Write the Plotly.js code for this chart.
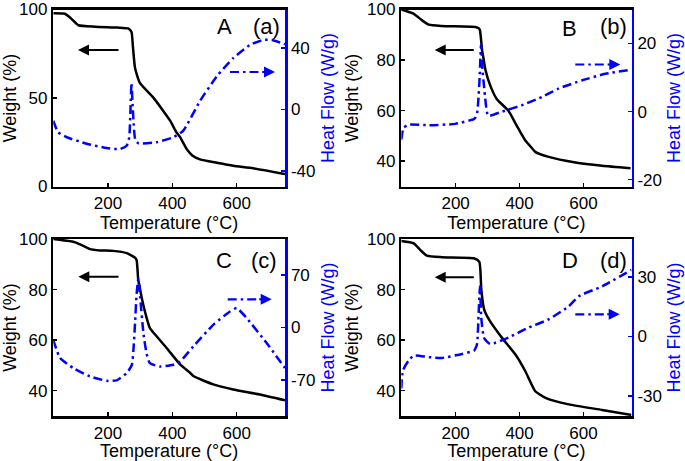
<!DOCTYPE html>
<html>
<head>
<meta charset="utf-8">
<script src="https://cdn.plot.ly/plotly-3.0.1.min.js"></script>
<style>html,body{margin:0;padding:0;background:#fff;}#chart{width:685px;height:461px;}</style>
</head>
<body>
<div id="chart"></div>
<script>
// ---------- data ----------
// Panel A
const tempA_w = [30, 66, 85, 108, 160, 230, 263, 273, 277, 284, 299, 341, 393, 413, 424, 445, 462, 486, 538, 589, 651, 750];
const weightA = [97.9, 97.6, 95.0, 91.1, 90.3, 89.8, 89.3, 87.3, 79.9, 66.9, 58.5, 50.2, 37.2, 30.5, 27.9, 21.0, 17.5, 15.3, 13.4, 11.7, 10.3, 7.1];
const tempA_h = [30, 45, 72, 134, 196, 237, 258, 266, 269, 273, 276, 280, 285, 295, 351, 403, 434, 486, 538, 589, 641, 682, 709, 750];
const heatA = [-7.3, -14.8, -18.0, -22.2, -25.0, -25.7, -23.5, -18.0, -5.0, 17.3, 5.0, -10.0, -20.0, -22.0, -21.2, -18.0, -13.7, 5.6, 21.6, 33.4, 42.0, 45.2, 45.2, 42.4];

// Panel B
const tempB_w = [30, 69, 95, 116, 157, 262, 272, 276, 283, 287, 293, 309, 329, 365, 387, 418, 433, 449, 491, 575, 658, 747];
const weightB = [100, 98.3, 95.7, 94.0, 93.5, 93.1, 92.6, 91.8, 83.5, 80.7, 76.2, 69.7, 64.5, 60.0, 55.0, 48.2, 46.0, 43.7, 41.7, 39.5, 38.2, 37.2];
const tempB_h = [30, 37, 53, 116, 199, 257, 261, 267, 271, 275, 279.5, 284, 288, 292, 302, 345, 408, 470, 523, 596, 668, 747];
const heatB = [-8.2, -4.8, -3.8, -4.0, -3.6, -2.2, -1.9, -0.5, 3.4, 10.0, 19.8, 12.0, 8.2, 4.3, -1.2, 0.0, 1.9, 4.3, 6.8, 9.2, 11.1, 12.3];

// Panel C
const tempC_w = [30, 92, 113, 144, 175, 216, 258, 284, 289, 294, 297, 305, 320, 330, 341, 382, 424, 455, 465, 527, 589, 672, 750];
const weightC = [100, 98.9, 97.9, 96.0, 95.5, 95.3, 94.4, 92.6, 91.5, 83.8, 82.0, 76.6, 68.8, 64.8, 63.0, 56.9, 50.4, 47.1, 45.8, 42.5, 40.5, 38.5, 36.2];
const tempC_h = [30, 51, 92, 144, 196, 227, 258, 274, 279, 284, 289, 294, 300, 310, 320, 330, 361, 403, 424, 465, 527, 579, 600, 631, 693, 750];
const heatC = [-16.4, -40.8, -54.1, -65.3, -71.1, -70.5, -60.8, -50.0, -30.0, 5.9, 45.0, 65.0, 40.0, -7.5, -35.0, -47.5, -52.0, -49.7, -45.3, -25.3, 3.6, 21.3, 25.9, 12.5, -20.8, -54.1];

// Panel D
const tempD_w = [30, 69, 89, 110, 157, 257, 274, 280, 287, 291, 308, 345, 387, 418, 449, 481, 554, 658, 750];
const weightD = [99.2, 98.3, 95.7, 93.4, 92.8, 92.4, 91.0, 80.5, 73.3, 71.4, 67.4, 60.9, 54.3, 47.7, 39.8, 37.2, 34.6, 32.4, 30.4];
const tempD_h = [30, 35, 53, 69, 116, 157, 220, 257, 261, 267, 272, 276, 280, 287, 291, 308, 366, 429, 491, 554, 585, 658, 750];
const heatD = [-26.2, -17.1, -12.1, -9.6, -10.4, -10.8, -8.8, -7.2, -6.3, -3.8, 12.0, 25.2, 9.5, 0.3, -1.3, -3.8, -0.5, 4.5, 8.6, 15.2, 20.2, 25.2, 33.5];

// tick labels
const xTicks = [200, 400, 600];
const yLeftA = [0, 50, 100];
const yLeftBCD = [40, 60, 80, 100];
const yRightA = [-40, 0, 40];
const yRightB = [-20, 0, 20];
const yRightC = [-70, 0, 70];
const yRightD = [-30, 0, 30];
const panelLetters = ["A", "B", "C", "D"];
const panelTags = ["(a)", "(b)", "(c)", "(d)"];

// ---------- helpers ----------
const W = 685, H = 461;
const px = v => v / W;
const py = v => 1 - v / H;
const FONT = "Liberation Sans, Arial, sans-serif";
const BLUE = "#0000ff";
const lbl = arr => arr.map(v => String(v)); // hyphen minus like original

const blackLine = {color: "#000", width: 2.5};
const blueLine = {color: BLUE, width: 2.5, dash: "9px,4px,2.5px,4px"};

const traces = [
  {x: tempA_w, y: weightA, xaxis: "x", yaxis: "y", line: blackLine},
  {x: tempA_h, y: heatA, xaxis: "x", yaxis: "y2", line: blueLine},
  {x: tempB_w, y: weightB, xaxis: "x2", yaxis: "y3", line: blackLine},
  {x: tempB_h, y: heatB, xaxis: "x2", yaxis: "y4", line: blueLine},
  {x: tempC_w, y: weightC, xaxis: "x3", yaxis: "y5", line: blackLine},
  {x: tempC_h, y: heatC, xaxis: "x3", yaxis: "y6", line: blueLine},
  {x: tempD_w, y: weightD, xaxis: "x4", yaxis: "y7", line: blackLine},
  {x: tempD_h, y: heatD, xaxis: "x4", yaxis: "y8", line: blueLine}
].map(t => Object.assign({showlegend: false, hoverinfo: "skip", mode: "lines", type: "scatter"}, t,
  {line: Object.assign({}, t.line, {shape: "spline", smoothing: 0.5})}));

const colDom = [[px(53.3), px(285)], [px(401.3), px(631.5)]];
const rowDom = [[py(186.5), py(9.5)], [py(416), py(239)]];

function xAx(dom, anchor, labelShift) {
  return {
    domain: dom, anchor: anchor, range: [30, 750],
    tickvals: xTicks, ticktext: lbl(xTicks),
    ticks: "inside", ticklen: 4, tickwidth: 1.5, tickcolor: "#000",
    showline: true, linecolor: "#000", linewidth: 2.5, mirror: true,
    showgrid: false, zeroline: false,
    ticklabeloverflow: "allow", ticklabelstandoff: labelShift,
    tickfont: {family: FONT, size: 17, color: "#000"},
    title: {text: "Temperature (°C)", font: {family: FONT, size: 18, color: "#000"}, standoff: 0},
    automargin: false
  };
}
function yLeft(dom, anchor, range, ticks) {
  return {
    domain: dom, anchor: anchor, range: range,
    tickvals: ticks, ticktext: lbl(ticks),
    ticks: "inside", ticklen: 4, tickwidth: 1.5, tickcolor: "#000",
    showline: true, linecolor: "#000", linewidth: 2.5,
    showgrid: false, zeroline: false,
    ticklabeloverflow: "allow",
    tickfont: {family: FONT, size: 17, color: "#000"},
    title: {text: "Weight (%)", font: {family: FONT, size: 18, color: "#000"}, standoff: 4},
    automargin: false
  };
}
function yRight(overlay, anchor, range, ticks) {
  return {
    overlaying: overlay, anchor: anchor, side: "right", range: range,
    tickvals: ticks, ticktext: lbl(ticks),
    ticks: "inside", ticklen: 4, tickwidth: 1.5, tickcolor: BLUE,
    showline: true, linecolor: BLUE, linewidth: 2.5,
    showgrid: false, zeroline: false,
    ticklabeloverflow: "allow",
    tickfont: {family: FONT, size: 17, color: "#000"},
    title: {text: "Heat Flow (W/g)", font: {family: FONT, size: 18, color: BLUE}, standoff: 7},
    automargin: false
  };
}

// arrows (decorations, placed in pixel space)
const blackArrows = [[120, 78, 50], [475.3, 434.7, 50], [120, 78.3, 276.7], [475.3, 434.7, 277.3]];
const blueArrows = [[230, 275, 72], [575.3, 620.3, 64.5], [227.7, 271.7, 299.3], [575.3, 619.7, 314.3]];
const letterPos = [[224, 26, 266, 26], [569.7, 28, 613.7, 26], [223.7, 260, 264, 260], [569.7, 260, 613, 260]];

const annotations = [];
const shapes = [];
blackArrows.forEach(a => {
  annotations.push({xref: "paper", yref: "paper", x: px(a[1]), y: py(a[2]), ax: a[0] - a[1], ay: 0,
    showarrow: true, arrowhead: 2, arrowsize: 1.1, arrowwidth: 2, arrowcolor: "#000", text: ""});
});
blueArrows.forEach(a => {
  shapes.push({type: "line", xref: "paper", yref: "paper", x0: px(a[0]), x1: px(a[1] - 12), y0: py(a[2]), y1: py(a[2]),
    line: {color: BLUE, width: 2.2, dash: "9px,4px,2.5px,4px"}});
  annotations.push({xref: "paper", yref: "paper", x: px(a[1]), y: py(a[2]), ax: -14, ay: 0,
    showarrow: true, arrowhead: 2, arrowsize: 1.1, arrowwidth: 2, arrowcolor: BLUE, text: ""});
});
letterPos.forEach((p, i) => {
  annotations.push({xref: "paper", yref: "paper", x: px(p[0]), y: py(p[1]), xanchor: "center", yanchor: "middle",
    showarrow: false, text: panelLetters[i], font: {family: FONT, size: 22, color: "#000"}});
  annotations.push({xref: "paper", yref: "paper", x: px(p[2]), y: py(p[3]), xanchor: "center", yanchor: "middle",
    showarrow: false, text: panelTags[i], font: {family: FONT, size: 22, color: "#000"}});
});

const layout = {
  width: W, height: H,
  margin: {l: 0, r: 0, t: 0, b: 0, pad: 0},
  paper_bgcolor: "#fff", plot_bgcolor: "#fff",
  showlegend: false,
  font: {family: FONT},
  xaxis: xAx(colDom[0], "y", 0),
  yaxis: yLeft(rowDom[0], "x", [0, 100], yLeftA),
  yaxis2: yRight("y", "x", [-50, 65], yRightA),
  xaxis2: xAx(colDom[1], "y3", 0),
  yaxis3: yLeft(rowDom[0], "x2", [30, 100], yLeftBCD),
  yaxis4: yRight("y3", "x2", [-22, 30], yRightB),
  xaxis3: xAx(colDom[0], "y5", 0),
  yaxis5: yLeft(rowDom[1], "x3", [30, 100], yLeftBCD),
  yaxis6: yRight("y5", "x3", [-118, 118], yRightC),
  xaxis4: xAx(colDom[1], "y7", 0),
  yaxis7: yLeft(rowDom[1], "x4", [30, 100], yLeftBCD),
  yaxis8: yRight("y7", "x4", [-40, 49], yRightD),
  annotations: annotations,
  shapes: shapes
};

Plotly.newPlot("chart", traces, layout, {staticPlot: true, displayModeBar: false});
</script>
</body>
</html>
